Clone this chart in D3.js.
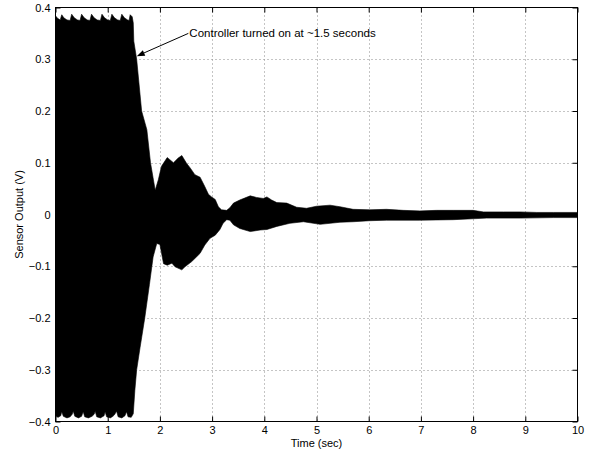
<!DOCTYPE html>
<html>
<head>
<meta charset="utf-8">
<script src="https://cdn.jsdelivr.net/npm/d3@7"></script>
<style>
  body { margin: 0; background: #fff; }
  text { font-family: "Liberation Sans", Arial, Helvetica, sans-serif; fill: #000; }
</style>
</head>
<body>
<svg id="chart" width="591" height="454"></svg>
<script>
// Upper envelope of the sensor signal (time in s, output in V)
const upperT = [0.00, 0.04, 0.09, 0.12, 0.16, 0.22, 0.28, 0.31, 0.36, 0.42, 0.47, 0.50, 0.55, 0.61, 0.66,
  0.69, 0.74, 0.80, 0.86, 0.89, 0.94, 1.00, 1.05, 1.08, 1.13, 1.19, 1.24, 1.27, 1.32, 1.38, 1.41, 1.43,
  1.47, 1.49, 1.50, 1.555, 1.65, 1.75, 1.82, 1.91, 1.97, 2.03, 2.14, 2.19, 2.26, 2.35, 2.42, 2.51, 2.58,
  2.67, 2.77, 2.86, 2.93, 2.99, 3.06, 3.12, 3.18, 3.28, 3.34, 3.41, 3.53, 3.73, 3.85, 3.98, 4.05, 4.14,
  4.24, 4.43, 4.62, 4.81, 5.00, 5.26, 5.45, 5.70, 6.02, 6.34, 6.66, 6.98, 7.30, 7.62, 8.00, 8.20, 8.58,
  8.90, 9.22, 9.54, 10.00];
const upperV = [0.384, 0.379, 0.376, 0.386, 0.380, 0.376, 0.375, 0.387, 0.380, 0.376, 0.375, 0.387, 0.380, 0.376, 0.375,
  0.387, 0.380, 0.376, 0.375, 0.387, 0.380, 0.376, 0.375, 0.387, 0.380, 0.376, 0.375, 0.387, 0.380, 0.376, 0.375, 0.386,
  0.382, 0.370, 0.335, 0.300, 0.200, 0.164, 0.100, 0.047, 0.067, 0.093, 0.110, 0.106, 0.100, 0.109, 0.114, 0.099, 0.090,
  0.077, 0.072, 0.054, 0.039, 0.034, 0.029, 0.015, 0.009, 0.008, 0.013, 0.022, 0.028, 0.036, 0.033, 0.031, 0.034, 0.028,
  0.023, 0.022, 0.014, 0.012, 0.016, 0.018, 0.015, 0.010, 0.009, 0.010, 0.008, 0.007, 0.008, 0.008, 0.008, 0.005, 0.005,
  0.005, 0.004, 0.004, 0.004];

// Lower envelope of the sensor signal
const lowerT = [0.00, 0.05, 0.10, 0.12, 0.15, 0.22, 0.28, 0.32, 0.34, 0.37, 0.44, 0.50, 0.53, 0.56, 0.63,
  0.70, 0.74, 0.76, 0.79, 0.86, 0.93, 0.95, 0.98, 1.05, 1.10, 1.13, 1.17, 1.20, 1.27, 1.33, 1.36, 1.39,
  1.45, 1.49, 1.52, 1.555, 1.62, 1.71, 1.80, 1.87, 1.94, 2.00, 2.07, 2.14, 2.23, 2.29, 2.42, 2.48, 2.61,
  2.70, 2.77, 2.86, 2.96, 3.06, 3.15, 3.21, 3.28, 3.34, 3.41, 3.53, 3.73, 3.92, 4.05, 4.24, 4.49, 4.75,
  5.07, 5.26, 5.45, 5.70, 6.02, 6.34, 6.98, 7.62, 8.26, 8.90, 9.54, 10.00];
const lowerV = [-0.390, -0.392, -0.389, -0.381, -0.390, -0.393, -0.391, -0.386, -0.380, -0.390, -0.393, -0.390, -0.381, -0.391, -0.393,
  -0.390, -0.386, -0.380, -0.391, -0.393, -0.389, -0.381, -0.391, -0.393, -0.390, -0.387, -0.380, -0.391, -0.393, -0.389, -0.381, -0.391,
  -0.392, -0.385, -0.340, -0.300, -0.257, -0.200, -0.135, -0.082, -0.056, -0.058, -0.095, -0.098, -0.094, -0.101, -0.107, -0.101, -0.091,
  -0.082, -0.075, -0.059, -0.046, -0.040, -0.029, -0.017, -0.010, -0.011, -0.020, -0.027, -0.033, -0.030, -0.029, -0.023, -0.017, -0.014,
  -0.019, -0.017, -0.015, -0.014, -0.012, -0.011, -0.011, -0.010, -0.007, -0.007, -0.006, -0.006];

const xTicks = [0, 1, 2, 3, 4, 5, 6, 7, 8, 9, 10];
const yTicks = [-0.4, -0.3, -0.2, -0.1, 0, 0.1, 0.2, 0.3, 0.4];
const xTitle = "Time (sec)";
const yTitle = "Sensor Output (V)";
const noteText = "Controller turned on at ~1.5 seconds";
const noteFrom = [2.545, 0.350];  // tail of the arrow, next to the text
const noteTo = [1.556, 0.306];    // arrow tip at the signal edge

const svg = d3.select("#chart");
const plotL = 55.5, plotR = 577.5, plotT = 7.5, plotB = 421.5;

const x = d3.scaleLinear().domain([0, 10]).range([plotL, plotR]);
const y = d3.scaleLinear().domain([-0.4, 0.4]).range([plotB, plotT]);

svg.append("rect").attr("width", 591).attr("height", 454).attr("fill", "#fff");

// dotted grid
const grid = svg.append("g").attr("stroke", "#8a8a8a").attr("stroke-width", 1)
  .attr("stroke-dasharray", "1,3");
grid.selectAll("line.gx").data(xTicks.slice(1, -1)).join("line")
  .attr("x1", d => Math.round(x(d)) + 0.5).attr("x2", d => Math.round(x(d)) + 0.5)
  .attr("y1", plotT).attr("y2", plotB);
grid.selectAll("line.gy").data(yTicks.slice(1, -1)).join("line")
  .attr("y1", d => Math.round(y(d)) + 0.5).attr("y2", d => Math.round(y(d)) + 0.5)
  .attr("x1", plotL).attr("x2", plotR);

// signal envelope: upper edge forward, lower edge back
const upperPts = upperT.map((t, i) => [t, upperV[i]]);
const lowerPts = lowerT.map((t, i) => [t, lowerV[i]]).reverse();
const line = d3.line().x(d => x(d[0])).y(d => y(d[1]));
svg.append("path")
  .attr("d", line(upperPts.concat(lowerPts)) + "Z")
  .attr("fill", "#000").attr("stroke", "#000").attr("stroke-width", 0.6)
  .attr("stroke-linejoin", "round");

// axes frame with inward ticks on all four sides
const tickLen = 5;
const axisBottom = d3.axisBottom(x).tickValues(xTicks).tickSizeInner(-tickLen).tickSizeOuter(0)
  .tickPadding(5).tickFormat(d3.format("d"));
const axisTop = d3.axisTop(x).tickValues(xTicks).tickSizeInner(-tickLen).tickSizeOuter(0).tickFormat("");
const axisLeft = d3.axisLeft(y).tickValues(yTicks).tickSizeInner(-tickLen).tickSizeOuter(0)
  .tickPadding(5).tickFormat(d => d === 0 ? "0" : d3.format(".1f")(d));
const axisRight = d3.axisRight(y).tickValues(yTicks).tickSizeInner(-tickLen).tickSizeOuter(0).tickFormat("");

function styleAxis(g) {
  g.select(".domain").remove();
  g.selectAll("line").attr("stroke", "#000");
  g.selectAll("text").attr("font-size", 11).attr("font-family", null);
}
svg.append("g").attr("transform", `translate(0,${plotB})`).call(axisBottom).call(styleAxis);
svg.append("g").attr("transform", `translate(0,${plotT})`).call(axisTop).call(styleAxis);
svg.append("g").attr("transform", `translate(${plotL},0)`).call(axisLeft).call(styleAxis);
svg.append("g").attr("transform", `translate(${plotR},0)`).call(axisRight).call(styleAxis);

svg.append("rect").attr("x", plotL).attr("y", plotT)
  .attr("width", plotR - plotL).attr("height", plotB - plotT)
  .attr("fill", "none").attr("stroke", "#000").attr("stroke-width", 1);

// axis titles
svg.append("text").attr("x", (plotL + plotR) / 2).attr("y", 447)
  .attr("text-anchor", "middle").attr("font-size", 11).text(xTitle);
svg.append("text").attr("transform", `translate(23,${(plotT + plotB) / 2}) rotate(-90)`)
  .attr("text-anchor", "middle").attr("font-size", 11).text(yTitle);

// annotation arrow and text
const x0 = x(noteFrom[0]), y0 = y(noteFrom[1]), x1 = x(noteTo[0]), y1 = y(noteTo[1]);
const ang = Math.atan2(y1 - y0, x1 - x0);
const headL = 8, headW = 3;
const bx = x1 - headL * Math.cos(ang), by = y1 - headL * Math.sin(ang);
svg.append("line").attr("x1", x0).attr("y1", y0).attr("x2", bx).attr("y2", by)
  .attr("stroke", "#000").attr("stroke-width", 1);
svg.append("path")
  .attr("d", `M${x1},${y1}L${bx + headW * Math.sin(ang)},${by - headW * Math.cos(ang)}L${bx - headW * Math.sin(ang)},${by + headW * Math.cos(ang)}Z`)
  .attr("fill", "#000");
svg.append("text").attr("x", x0 + 1).attr("y", y0).attr("dy", "0.35em")
  .attr("font-size", 11.5).text(noteText);
</script>
</body>
</html>
